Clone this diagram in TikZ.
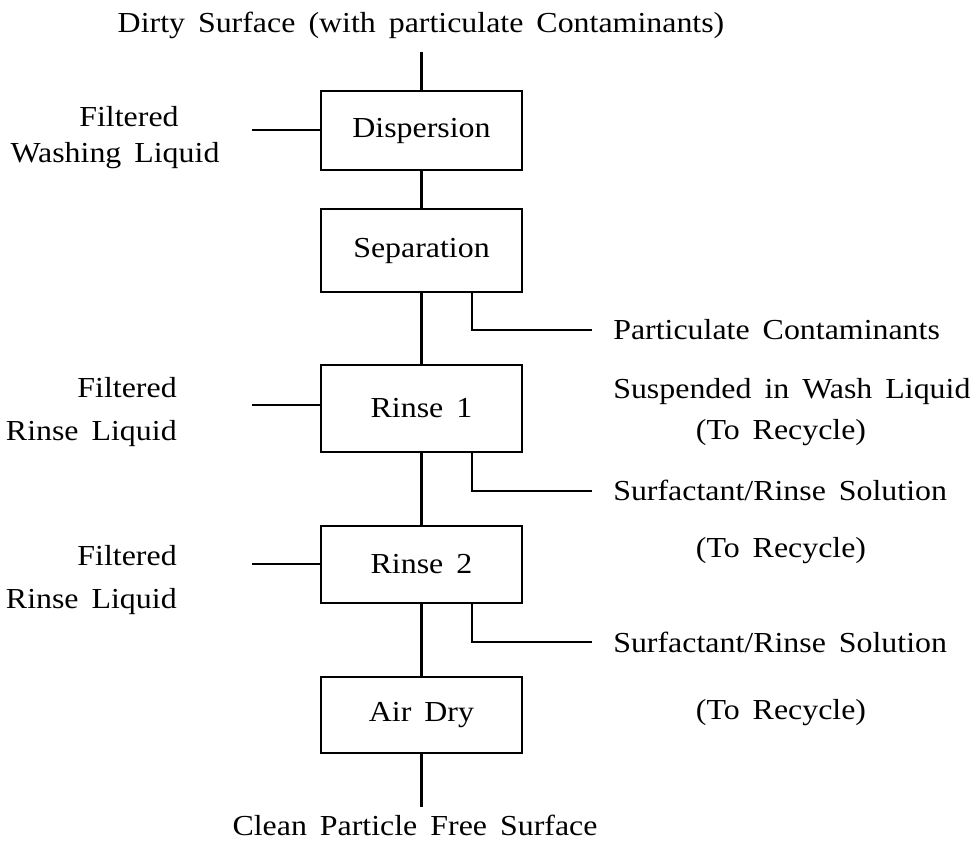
\documentclass[tikz,border=0pt]{standalone}
\usepackage{fontspec}
\setmainfont[FakeStretch=1.1]{Liberation Serif}
\usepackage{tikz}
\newcommand\flowfont{\fontsize{29}{36}\selectfont\spaceskip=13pt\relax}
\tikzset{stage/.style={rectangle,draw,minimum width=201pt,inner sep=0pt},
         lbl/.style={inner sep=0pt,anchor=base}}

\begin{document}
\begin{tikzpicture}[x=1pt,y=-1pt,line width=2.6pt,every node/.style={font=\flowfont}]
    \useasboundingbox (0,0) rectangle (977,843);
    % process stages
    \node[stage,minimum height=79pt] (disp) at (421.5,130.5) {Dispersion};
    \node[stage,minimum height=83pt] (sep) at (421.5,250.5) {Separation};
    \node[stage,minimum height=87pt] (rinsea) at (421.5,408.5) {Rinse 1};
    \node[stage,minimum height=77pt] (rinseb) at (421.5,564.5) {Rinse 2};
    \node[stage,minimum height=76pt] (airdry) at (421.5,715) {Air Dry};

    % labels
    \node[lbl] (dirty) at (421,33) {Dirty Surface (with particulate Contaminants)};
    \node[lbl] (clean) at (415,835) {Clean Particle Free Surface};
    \node[lbl] (filta) at (129,126) {Filtered};
    \node[lbl] (washliq) at (115,162) {Washing Liquid};
    \node[lbl,anchor=base east] (filtb) at (178,397) {Filtered};
    \node[lbl,anchor=base east] (rinseliqa) at (178,440) {Rinse Liquid};
    \node[lbl,anchor=base east] (filtc) at (178,565) {Filtered};
    \node[lbl,anchor=base east] (rinseliqb) at (178,608) {Rinse Liquid};
    \node[lbl,anchor=base west] (partic) at (612,339) {Particulate Contaminants};
    \node[lbl,anchor=base west] (susp) at (612,398) {Suspended in Wash Liquid};
    \node[lbl] (recya) at (781,439) {(To Recycle)};
    \node[lbl,anchor=base west] (surfa) at (612,500) {Surfactant/Rinse Solution};
    \node[lbl] (recyb) at (781,557) {(To Recycle)};
    \node[lbl,anchor=base west] (surfb) at (612,652) {Surfactant/Rinse Solution};
    \node[lbl] (recyc) at (781,719) {(To Recycle)};

    % free ends
    \coordinate (feed) at (421.5,52);
    \coordinate (done) at (421.5,807);
    \coordinate (washin) at (252,130);
    \coordinate (rinseina) at (252,405);
    \coordinate (rinseinb) at (252,564);
    \coordinate (washout) at (592,330);
    \coordinate (rinseouta) at (592,491);
    \coordinate (rinseoutb) at (592,642);

    % main line
    \draw [] (feed) -- (disp);
    \draw [] (disp) -- (sep);
    \draw [] (sep) -- (rinsea);
    \draw [] (rinsea) -- (rinseb);
    \draw [] (rinseb) -- (airdry);
    \draw [] (airdry) -- (done);

    % liquids in
    \draw [] (washin) -- (washin -| disp.west);
    \draw [] (rinseina) -- (rinseina -| rinsea.west);
    \draw [] (rinseinb) -- (rinseinb -| rinseb.west);

    % liquids out
    \draw [] ([xshift=50.5pt]sep.south) |- (washout);
    \draw [] ([xshift=50.5pt]rinsea.south) |- (rinseouta);
    \draw [] ([xshift=50.5pt]rinseb.south) |- (rinseoutb);
\end{tikzpicture}
\end{document}
